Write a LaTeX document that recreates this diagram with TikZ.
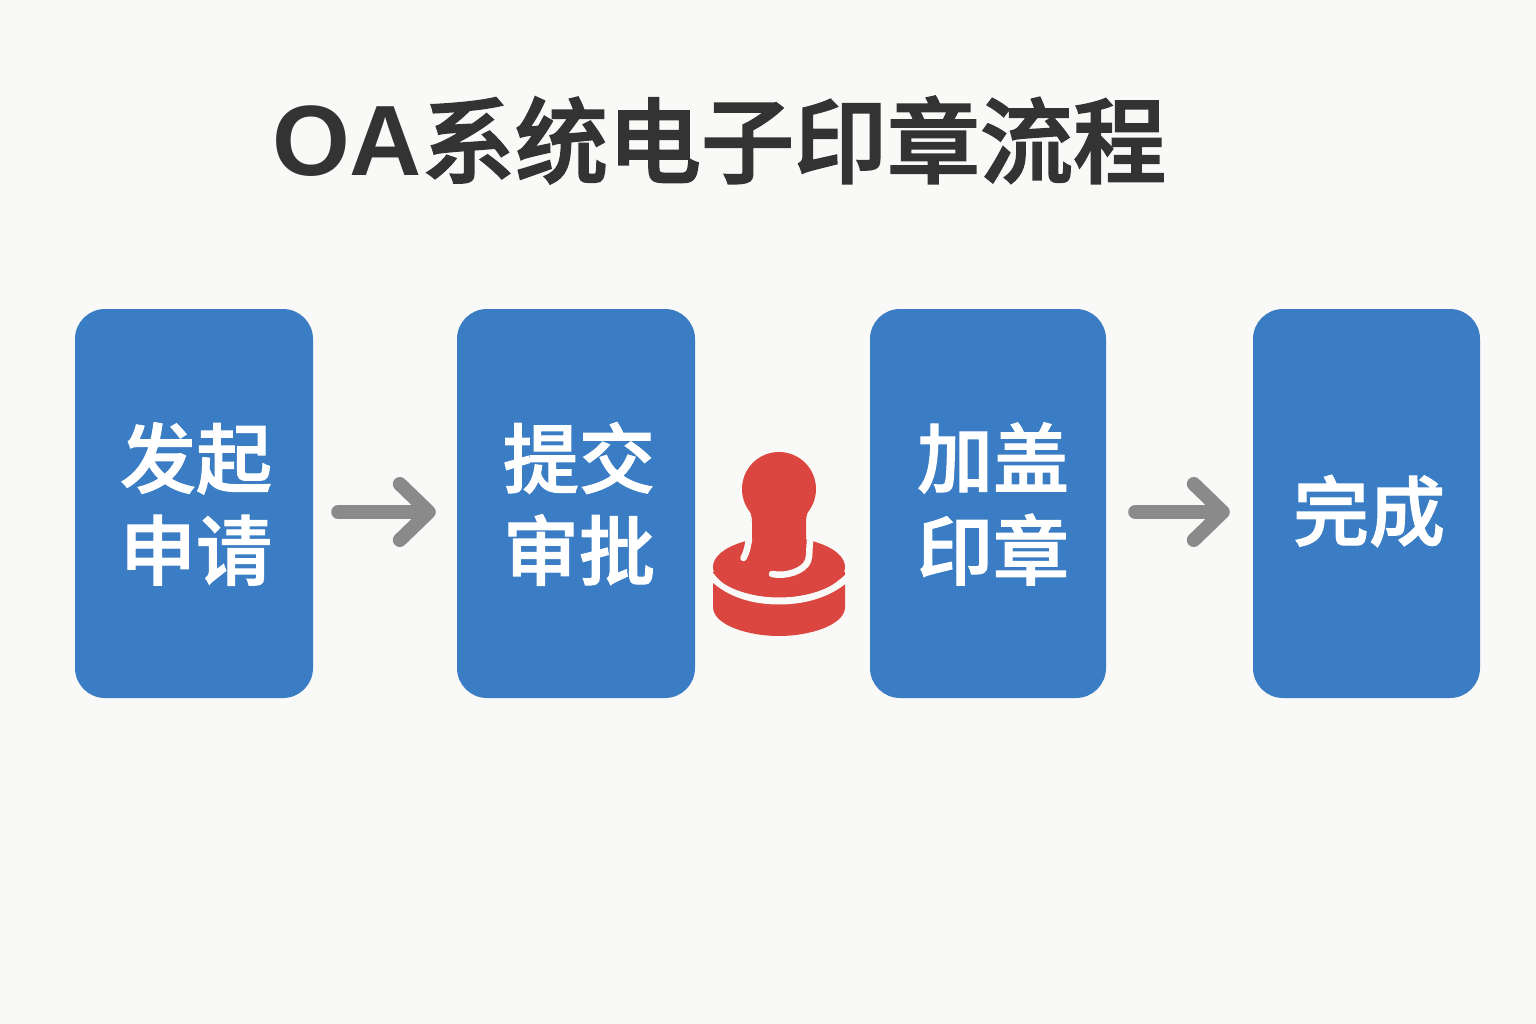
\documentclass[tikz,border=0pt]{standalone}
\usepackage{fontspec}
\setmainfont{Noto Sans CJK SC Medium}[RawFeature={embolden=1.5}]
\newfontfamily\titlefont{Noto Sans CJK SC Medium}[RawFeature={embolden=2}]
\newfontfamily\latinfont{Liberation Sans Bold}
\usetikzlibrary{arrows.meta}
\definecolor{boxblue}{HTML}{3A7DC4}
\definecolor{stampred}{HTML}{DB4640}
\definecolor{arrowgray}{HTML}{8A8A8A}
\definecolor{titlegray}{HTML}{333333}
\definecolor{pagebg}{HTML}{F9F9F7}

\begin{document}
\begin{tikzpicture}[x=1pt,y=-1pt,
		stepbox/.style={rectangle,fill=boxblue,rounded corners=30pt,minimum height=389pt,inner sep=0pt},
		steptext/.style={text=white,align=center,inner sep=0pt,font=\fontsize{76}{92}\selectfont},
		flowarrow/.style={draw=arrowgray,line width=14pt,line cap=round,
			-{Straight Barb[length=29pt,width=56pt,line cap=round,round]}},
		whiteline/.style={draw=pagebg,line width=6.5pt,line cap=round}]
		\path[fill=pagebg,use as bounding box] (0,0) rectangle (1536,1024);
		\node[text=titlegray,font=\fontsize{93}{93}\selectfont\titlefont,anchor=center](title) at (719,140){{\latinfont\fontsize{100}{100}\selectfont OA}系统电子印章流程};
		\node[stepbox,minimum width=238pt](faqi) at (194,503.5){};
		\node[stepbox,minimum width=238pt](tijiao) at (576,503.5){};
		\node[stepbox,minimum width=236pt](jiagai) at (988,503.5){};
		\node[stepbox,minimum width=227pt](wancheng) at (1366.5,503.5){};
		\node[steptext](faqitext) at (196,504){发起\\申请};
		\node[steptext](tijiaotext) at (579,504){提交\\审批};
		\node[steptext](jiagaitext) at (993,504){加盖\\印章};
		\node[steptext](wanchengtext) at (1369,511){完成};
		\draw[flowarrow,shorten <=25pt,shorten >=21pt] ([yshift=-8.5pt]faqi.east) -- ([yshift=-8.5pt]tijiao.west);
		\draw[flowarrow,shorten <=29pt,shorten >=23pt] ([yshift=-8.5pt]jiagai.east) -- ([yshift=-8.5pt]wancheng.west);
		% stamp
		\fill[stampred] (713,572) -- (713,607) .. controls (713,625) and (748,636) .. (779,636)
			.. controls (810,636) and (845,625) .. (845,607) -- (845,572) -- cycle;
		\draw[whiteline,line cap=butt,line width=7pt] (709,574) .. controls (725,592) and (750,601) .. (779,601)
			.. controls (808,601) and (833,592) .. (849,576);
		\fill[stampred] (779,567) ellipse [x radius=66,y radius=30];
		\fill[stampred] (779,489) circle [radius=37];
		\fill[stampred] (746,505) .. controls (750,510) and (752,515) .. (752,522)
			.. controls (752,535) and (753,550) .. (750,570) -- (808,570)
			.. controls (806,550) and (806,535) .. (806,522)
			.. controls (806,515) and (808,510) .. (812,505) -- cycle;
		\draw[whiteline] (749,539) .. controls (748,545) and (747,552) .. (743.5,558);
		\draw[whiteline] (810,541) .. controls (809,548) and (810,555) .. (808,561)
			.. controls (804,571) and (786,577) .. (772,574);
	\end{tikzpicture}
\end{document}
